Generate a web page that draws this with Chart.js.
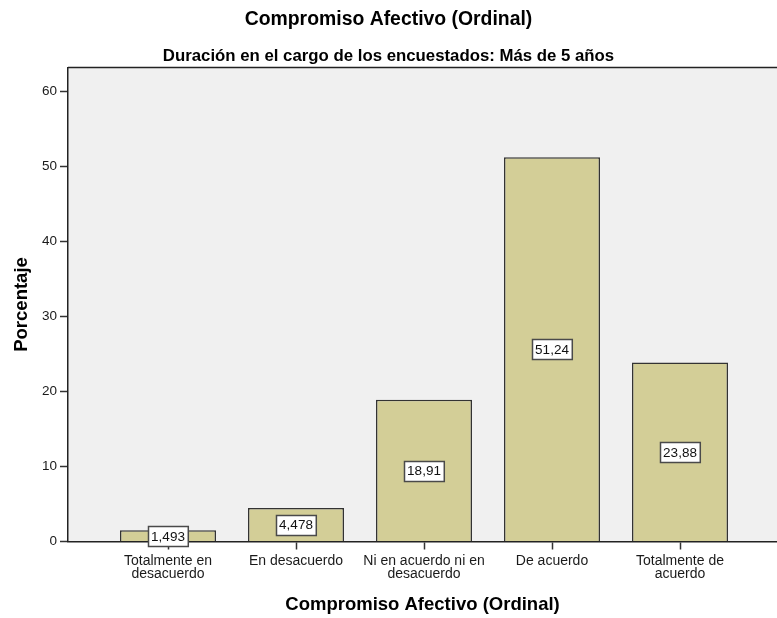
<!DOCTYPE html>
<html>
<head>
<meta charset="utf-8">
<script src="https://cdn.jsdelivr.net/npm/chart.js@4/dist/chart.umd.min.js"></script>
<style>
  html, body { margin: 0; padding: 0; background: #ffffff; overflow: hidden; }
  #wrap { width: 777px; height: 618px; }
</style>
</head>
<body>
<div id="wrap"><canvas id="c" width="777" height="618"></canvas></div>
<script>
// Categories and percentages
const categories = [
  ['Totalmente en', 'desacuerdo'],
  ['En desacuerdo'],
  ['Ni en acuerdo ni en', 'desacuerdo'],
  ['De acuerdo'],
  ['Totalmente de', 'acuerdo']
];
const percentages = [1.493, 4.478, 18.91, 51.24, 23.88];
const valueLabels = ['1,493', '4,478', '18,91', '51,24', '23,88'];
const yTicks = [0, 10, 20, 30, 40, 50, 60];

const FONT = '"Liberation Sans", Arial, sans-serif';

// Grey plotting area with a top rule
const plotBackground = {
  id: 'plotBackground',
  beforeDraw(chart) {
    const {ctx, chartArea: a} = chart;
    ctx.save();
    ctx.fillStyle = '#f0f0f0';
    ctx.fillRect(a.left, a.top, a.right - a.left, a.bottom - a.top);
    ctx.strokeStyle = '#222222';
    ctx.lineWidth = 1.5;
    ctx.beginPath();
    ctx.moveTo(a.left, a.top);
    ctx.lineTo(a.right, a.top);
    ctx.stroke();
    ctx.restore();
  }
};

// Boxed value labels placed at half the bar height
const boxedLabels = {
  id: 'boxedLabels',
  afterDatasetsDraw(chart) {
    const {ctx} = chart;
    const yScale = chart.scales.y;
    const meta = chart.getDatasetMeta(0);
    ctx.save();
    ctx.font = '13.5px ' + FONT;
    ctx.textAlign = 'center';
    ctx.textBaseline = 'middle';
    meta.data.forEach((bar, i) => {
      const text = valueLabels[i];
      const cy = yScale.getPixelForValue(percentages[i] / 2);
      const w = ctx.measureText(text).width + 6;
      const h = 20;
      const x0 = Math.round(bar.x - w / 2) + 0.5;
      const y0 = Math.round(cy - h / 2) + 0.5;
      ctx.fillStyle = '#ffffff';
      ctx.fillRect(x0, y0, w, h);
      ctx.strokeStyle = '#4a4a4a';
      ctx.lineWidth = 1.5;
      ctx.strokeRect(x0, y0, w, h);
      ctx.fillStyle = '#111111';
      ctx.fillText(text, bar.x, cy + 1);
    });
    ctx.restore();
  }
};

new Chart(document.getElementById('c'), {
  type: 'bar',
  data: {
    datasets: [{
      data: percentages.map((v, i) => ({x: i, y: v})),
      backgroundColor: '#d3ce97',
      borderColor: '#333333',
      borderWidth: 1.5,
      barPercentage: 0.75,
      categoryPercentage: 1.0
    }]
  },
  options: {
    responsive: false,
    animation: false,
    layout: { padding: 0 },
    plugins: {
      legend: { display: false },
      tooltip: { enabled: false },
      title: {
        display: true,
        text: 'Compromiso Afectivo (Ordinal)',
        color: '#000000',
        font: { family: FONT, size: 19.4, weight: 'bold', lineHeight: 1.2 },
        padding: { top: 8, bottom: 15.4 }
      },
      subtitle: {
        display: true,
        text: 'Duración en el cargo de los encuestados: Más de 5 años',
        color: '#000000',
        font: { family: FONT, size: 16.8, weight: 'bold', lineHeight: 1.2 },
        padding: { top: 0, bottom: 0.6 }
      }
    },
    scales: {
      x: {
        type: 'linear',
        offset: false,
        min: -0.78125,
        max: 4.7578,
        afterBuildTicks(scale) {
          scale.ticks = categories.map((c, i) => ({value: i}));
        },
        afterFit(scale) { scale.height = 76.5; },
        ticks: {
          autoSkip: false,
          maxRotation: 0,
          padding: 5,
          color: '#1a1a1a',
          font: { family: FONT, size: 14, lineHeight: 0.93 },
          callback: (v) => categories[v]
        },
        grid: {
          offset: false,
          drawOnChartArea: false,
          drawTicks: true,
          tickLength: 8,
          tickWidth: 1.5,
          tickColor: '#333333'
        },
        border: { display: true, color: '#222222', width: 1.5 },
        title: {
          display: true,
          text: 'Compromiso Afectivo (Ordinal)',
          color: '#000000',
          font: { family: FONT, size: 18.5, weight: 'bold', lineHeight: 1.2 },
          padding: { top: 0, bottom: 2 }
        }
      },
      y: {
        min: 0,
        max: 63.2,
        afterBuildTicks(scale) {
          scale.ticks = yTicks.map(v => ({value: v}));
        },
        afterFit(scale) { scale.width = 68; },
        ticks: {
          padding: 3,
          color: '#1a1a1a',
          font: { family: FONT, size: 13.5 },
          callback: (v) => String(v)
        },
        grid: {
          drawOnChartArea: false,
          drawTicks: true,
          tickLength: 8,
          tickWidth: 1.5,
          tickColor: '#333333'
        },
        border: { display: true, color: '#222222', width: 1.5 },
        title: {
          display: true,
          text: 'Porcentaje',
          color: '#000000',
          font: { family: FONT, size: 18.5, weight: 'bold', lineHeight: 1.2 },
          padding: { top: 11, bottom: 0 }
        }
      }
    }
  },
  plugins: [plotBackground, boxedLabels]
});
</script>
</body>
</html>
